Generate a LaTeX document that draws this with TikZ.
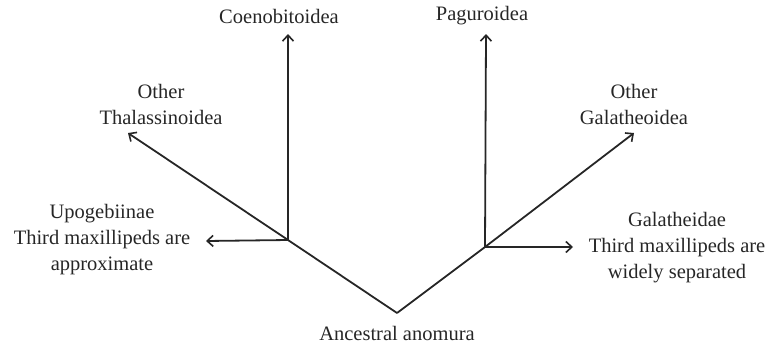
\documentclass[tikz,border=0pt]{standalone}
\usepackage{fontspec}
\setmainfont{Liberation Serif}
\usetikzlibrary{arrows.meta}
\begin{document}
\begin{tikzpicture}[x=1pt,y=-1pt,
  branch/.style={line width=1.8pt,draw=black!85},
  arr/.style={branch,-{Straight Barb[length=6pt,width=11pt,line width=1.6pt]}},
  lab/.style={font=\fontsize{20.5}{26}\selectfont,text=black!85,align=center,inner sep=0pt}]
\useasboundingbox (0,0) rectangle (775,343);
% points
\coordinate (apex) at (397,313);
\coordinate (lb) at (288,240);
\coordinate (rb) at (485,247);
\coordinate (tThal) at (128,133);
\coordinate (tCoen) at (288,34);
\coordinate (tUpo) at (206,241);
\coordinate (tPag) at (486,34);
\coordinate (tGal) at (634,133);
\coordinate (tGald) at (573,247);
% labels
\node[lab] (anc) at (397,333) {Ancestral anomura};
\node[lab] (coen) at (279,16) {Coenobitoidea};
\node[lab] (pag) at (482,16) {Paguroidea};
\node[lab] (thal) at (161,104) {Other\\Thalassinoidea};
\node[lab] (ogal) at (634,104) {Other\\Galatheoidea};
\node[lab] (upo) at (102,240) {Upogebiinae\\Third maxillipeds are\\approximate};
\node[lab] (gald) at (677,248) {Galatheidae\\Third maxillipeds are\\widely separated};
% connectors
\draw[branch] (apex) -- (lb);
\draw[branch] (apex) -- (rb);
\draw[arr] (lb) -- (tThal);
\draw[arr] (lb) -- (tCoen);
\draw[arr] (lb) -- (tUpo);
\draw[arr] (rb) -- (tPag);
\draw[arr] (rb) -- (tGal);
\draw[arr] (rb) -- (tGald);
\end{tikzpicture}
\end{document}
